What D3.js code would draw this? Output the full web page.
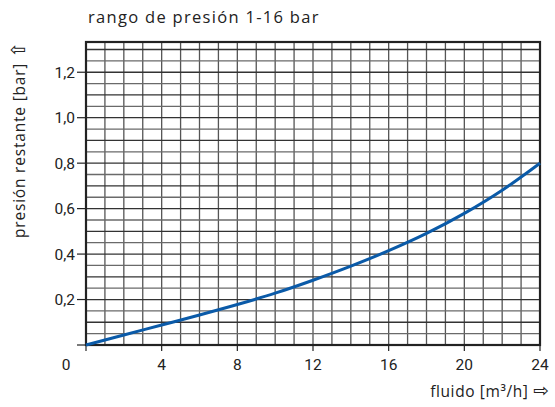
<!DOCTYPE html>
<html><head><meta charset="utf-8">
<script src="https://cdn.jsdelivr.net/npm/d3@7"></script>
<style>body{margin:0;background:#fff}svg{display:block}</style>
</head><body>
<svg id="c" width="555" height="407"></svg>
<script>
const flowValues = [0, 2, 4, 6, 8, 10, 12, 14, 16, 18, 20, 22, 24];
const pressureValues = [0, 0.044, 0.088, 0.132, 0.178, 0.228, 0.285, 0.347, 0.415, 0.491, 0.579, 0.681, 0.80];
const xTicks = [4, 8, 12, 16, 20, 24];
const yTicks = [0.2, 0.4, 0.6, 0.8, 1.0, 1.2];
const yTickLabels = ["0,2", "0,4", "0,6", "0,8", "1,0", "1,2"];
const title = "rango de presión 1-16 bar";
const yTitle = "presión restante [bar]";
const xTitle = "fluido [m\u00B3/h]";
const upArrow = "\u21E7";
const rightArrow = "\u21E8";

const svg = d3.select("#c");
const L = 86, R = 540, T = 42, B = 345;
const x = d3.scaleLinear().domain([0, 24]).range([L, R]);
const y = d3.scaleLinear().domain([0, 1.333]).range([B, T]);
const labelFont = "Open Sans, DejaVu Sans, sans-serif";
const tickFont = "Roboto, Liberation Sans, sans-serif";

const g = svg.append("g");
// vertical grid
g.selectAll(".vg").data(d3.range(1, 24)).join("line")
  .attr("x1", d => x(d)).attr("x2", d => x(d)).attr("y1", T).attr("y2", B)
  .attr("stroke", "#555").attr("stroke-width", 1.3);
// horizontal grid
g.selectAll(".hg").data(d3.range(1, 27).map(i => i * 0.05)).join("line")
  .attr("x1", L).attr("x2", R).attr("y1", d => y(d)).attr("y2", d => y(d))
  .attr("stroke", (d, i) => i % 2 === 1 ? "#333" : "#6a6a6a").attr("stroke-width", 1.3);

// border
g.append("rect").attr("x", L).attr("y", T).attr("width", R - L).attr("height", B - T)
  .attr("fill", "none").attr("stroke", "#222").attr("stroke-width", 2.2);

// y ticks
g.selectAll(".yt").data([0].concat(yTicks)).join("line")
  .attr("x1", L - 9).attr("x2", L).attr("y1", d => y(d)).attr("y2", d => y(d))
  .attr("stroke", "#222").attr("stroke-width", 1.2);
g.selectAll(".ytl").data(yTicks).join("text")
  .attr("x", L - 11).attr("y", d => y(d) + 5.5)
  .attr("text-anchor", "end").attr("font-family", tickFont)
  .attr("font-size", 15.5).attr("fill", "#222").text((d, i) => yTickLabels[i]);

// x ticks
g.selectAll(".xt").data([0].concat(xTicks)).join("line")
  .attr("x1", d => x(d)).attr("x2", d => x(d)).attr("y1", B).attr("y2", B + 6)
  .attr("stroke", "#222").attr("stroke-width", 1.2);
g.selectAll(".xtl").data(xTicks).join("text")
  .attr("x", d => x(d)).attr("y", B + 25)
  .attr("text-anchor", "middle").attr("font-family", tickFont)
  .attr("font-size", 15.5).attr("fill", "#222").text(d => d);
g.append("text").attr("x", 66).attr("y", B + 25).attr("text-anchor", "middle")
  .attr("font-family", tickFont)
  .attr("font-size", 15.5).attr("fill", "#222").text("0");

// curve
const line = d3.line().x((d, i) => x(flowValues[i])).y(d => y(d)).curve(d3.curveMonotoneX);
g.append("path").datum(pressureValues).attr("d", line)
  .attr("fill", "none").attr("stroke", "#0a5aa8").attr("stroke-width", 3);

// titles
svg.append("text").attr("x", 88).attr("y", 23).attr("font-family", labelFont)
  .attr("font-size", 16.5).attr("letter-spacing", 1.3).attr("fill", "#222").text(title);
const yt = svg.append("text").attr("transform", "translate(25,140) rotate(-90)").attr("text-anchor", "middle")
  .attr("font-family", labelFont).attr("font-size", 15.5).attr("letter-spacing", 0.8).attr("fill", "#222");
yt.append("tspan").text(yTitle + " ");
yt.append("tspan").attr("font-family", "DejaVu Sans, sans-serif").attr("font-size", 19).attr("letter-spacing", 0).text(upArrow);
const xt = svg.append("text").attr("x", 549).attr("y", 397).attr("text-anchor", "end")
  .attr("font-family", labelFont).attr("font-size", 15.5).attr("letter-spacing", 0.6).attr("fill", "#222");
xt.append("tspan").text(xTitle + " ");
xt.append("tspan").attr("font-family", "DejaVu Sans, sans-serif").attr("font-size", 19).attr("letter-spacing", 0).text(rightArrow);
</script>
</body></html>
